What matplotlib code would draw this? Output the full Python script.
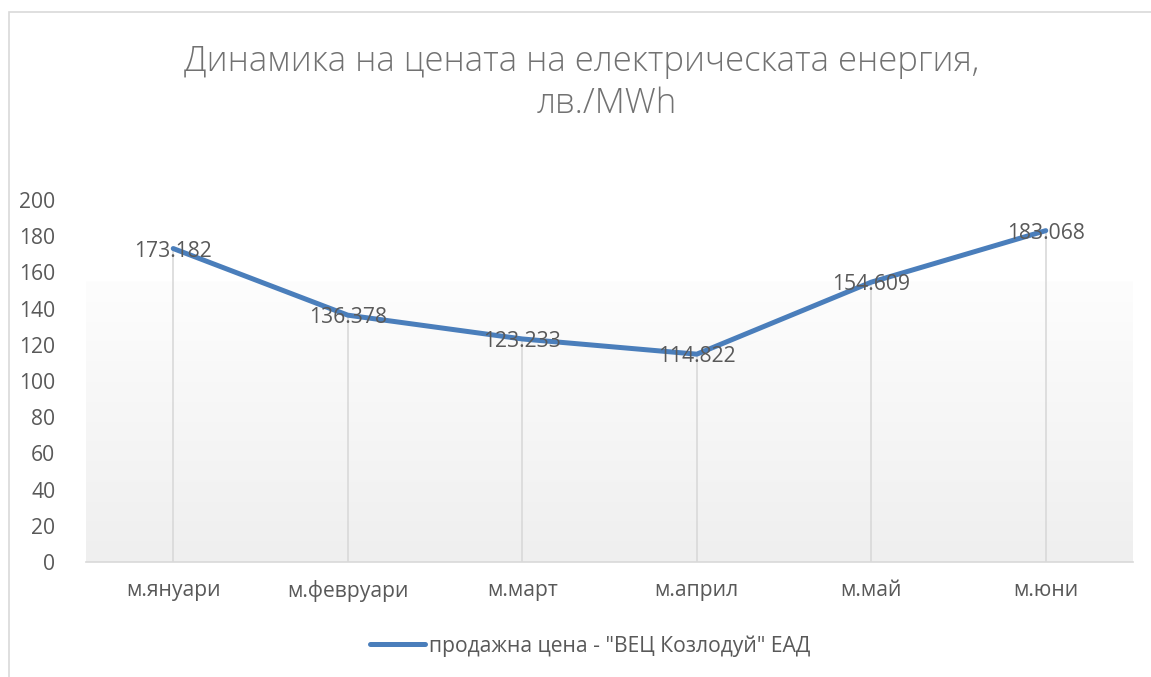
import matplotlib.pyplot as plt
import numpy as np
from matplotlib.patches import Rectangle
from matplotlib.colors import LinearSegmentedColormap

plt.rcParams['font.family'] = ['Open Sans', 'DejaVu Sans']

months = ["м.януари", "м.февруари", "м.март", "м.април", "м.май", "м.юни"]
prices = [173.182, 136.378, 123.233, 114.822, 154.609, 183.068]
labels = ["173.182", "136.378", "123.233", "114.822", "154.609", "183.068"]
yticks = [0, 20, 40, 60, 80, 100, 120, 140, 160, 180, 200]

txt = "#595959"
blue = "#4a7ebb"

fig = plt.figure(figsize=(11.51, 6.77), dpi=100)

# chart border
fig.patches.append(Rectangle((9 / 1151, -0.01), 1.02, 1 - 12 / 677 + 0.01,
                             transform=fig.transFigure, fill=False,
                             edgecolor="#d9d9d9", linewidth=1.2))

ax = fig.add_axes([86 / 1151, 1 - 562 / 677, (1133 - 86) / 1151, (562 - 200) / 677])
x = np.arange(len(months))

# plot area gradient
grad = np.linspace(0, 1, 256).reshape(-1, 1)
cmap = LinearSegmentedColormap.from_list("g", ["#efefef", "#fdfdfd"])
ax.imshow(grad, extent=(-0.5, 5.5, 0, 155), origin="lower", aspect="auto",
          cmap=cmap, zorder=0)

ax.vlines(x, 0, prices, color="#d9d9d9", linewidth=1.2, zorder=1)
ax.plot(x, prices, color=blue, linewidth=3.6, solid_capstyle="round",
        solid_joinstyle="round", zorder=3,
        label='продажна цена - "ВЕЦ Козлодуй" ЕАД')
for xi, v, s in zip(x, prices, labels):
    ax.text(xi, v - 1.5, s, ha="center", va="center", fontsize=15.2, color=txt, zorder=4)

ax.set_xlim(-0.5, 5.5)
ax.set_ylim(0, 200)
ax.set_yticks(yticks)
ax.set_xticks(x)
ax.set_xticklabels(months)
ax.tick_params(axis="both", length=0, labelsize=15.2, labelcolor=txt)
ax.tick_params(axis="y", pad=22)
ax.tick_params(axis="x", pad=13)
for side in ["top", "right", "left"]:
    ax.spines[side].set_visible(False)
ax.spines["bottom"].set_color("#d9d9d9")
ax.spines["bottom"].set_linewidth(1.2)

fig.text(582 / 1151, 1 - 62 / 677, "Динамика на цената на електрическата енергия,",
         ha="center", va="center", fontsize=25, color="#727272", fontweight="light")
fig.text(607 / 1151, 1 - 104 / 677, "лв./MWh",
         ha="center", va="center", fontsize=25, color="#727272", fontweight="light")

fig.legend(loc="center", bbox_to_anchor=(0.513, 1 - 646 / 677), frameon=False,
           fontsize=15.2, labelcolor=txt, handlelength=2.6, handletextpad=0.2)

fig.savefig("out.png", dpi=100)
